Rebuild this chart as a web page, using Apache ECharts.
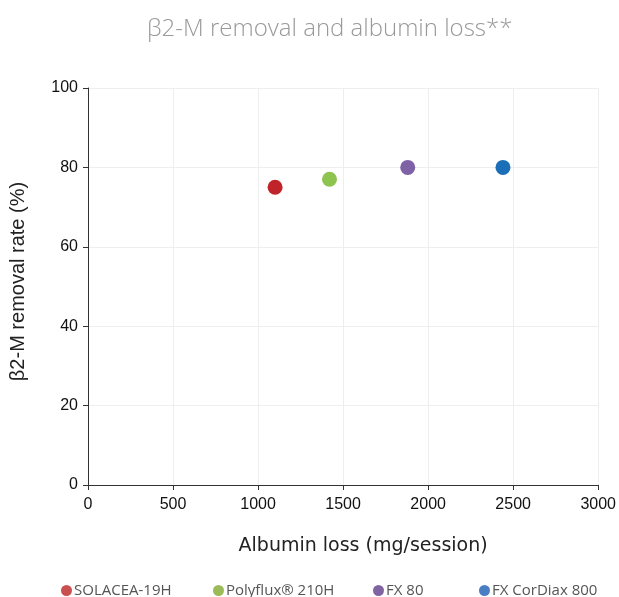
<!DOCTYPE html>
<html><head><meta charset="utf-8">
<script src="https://cdn.jsdelivr.net/npm/echarts@6/dist/echarts.min.js"></script>
<style>html,body{margin:0;padding:0;background:#fff}#c{width:619px;height:597px}</style>
</head><body><div id="c"></div>
<script>
const names = ['SOLACEA-19H', 'Polyflux® 210H', 'FX 80', 'FX CorDiax 800'];
const albuminLoss = [1100, 1420, 1880, 2440];
const b2mRemoval = [75, 77, 80, 80];
const markerColors = ['#c1232b', '#8dc34f', '#7f62a6', '#1a6fb8'];
const legendColors = ['#c9504e', '#9bbb59', '#8064a2', '#4a7ec2'];
const legendLeft = [56, 208, 368, 474];
const xTicks = [0, 500, 1000, 1500, 2000, 2500, 3000];
const yTicks = [0, 20, 40, 60, 80, 100];

const chart = echarts.init(document.getElementById('c'), null, {renderer: 'canvas'});
chart.setOption({
  animation: false,
  backgroundColor: '#fff',
  title: {
    text: 'β2-M removal and albumin loss**',
    left: 142, top: 12,
    textStyle: {fontFamily: 'Open Sans', fontWeight: 300, fontSize: 24, color: '#999999'}
  },
  grid: {left: 88, right: 18, top: 88, bottom: 112},
  legend: names.map((n, i) => ({
    left: legendLeft[i], top: 578,
    icon: 'circle', itemWidth: 11, itemHeight: 11, itemGap: 4,
    textStyle: {fontFamily: 'Open Sans', fontSize: 15, color: '#555', padding: [0,0,0,-3]},
    data: [{name: n, itemStyle: {color: legendColors[i]}}]
  })),
  xAxis: {
    type: 'value', min: xTicks[0], max: xTicks[xTicks.length-1], interval: 500,
    name: 'Albumin loss (mg/session)', nameLocation: 'middle', nameGap: 52,
    nameTextStyle: {fontFamily: 'DejaVu Sans', fontSize: 19, color: '#222', padding: [0,0,0,40]},
    axisLine: {show: true, lineStyle: {color: '#333', width: 1}},
    axisTick: {show: true, inside: false, length: 5, lineStyle: {color: '#333'}},
    axisLabel: {fontFamily: 'Liberation Sans', fontSize: 16, color: '#111', margin: 12,
      formatter: v => String(v)},
    splitLine: {show: true, lineStyle: {color: '#eeeeee', width: 1}}
  },
  yAxis: {
    type: 'value', min: yTicks[0], max: yTicks[yTicks.length-1], interval: 20,
    name: 'β2-M removal rate (%)', nameLocation: 'middle', nameGap: 60,
    nameTextStyle: {fontFamily: 'Liberation Sans', fontSize: 20, color: '#222', padding: [0,0,0,10]},
    axisLine: {show: true, lineStyle: {color: '#333', width: 1}},
    axisTick: {show: true, inside: false, length: 5, lineStyle: {color: '#333'}},
    axisLabel: {fontFamily: 'Liberation Sans', fontSize: 16, color: '#111', margin: 10,
      formatter: v => String(v)},
    splitLine: {show: true, lineStyle: {color: '#eeeeee', width: 1}}
  },
  series: names.map((n, i) => ({
    name: n, type: 'scatter', symbol: 'circle', symbolSize: 15,
    itemStyle: {color: markerColors[i], opacity: 1},
    data: [[albuminLoss[i], b2mRemoval[i]]]
  }))
});
</script></body></html>
